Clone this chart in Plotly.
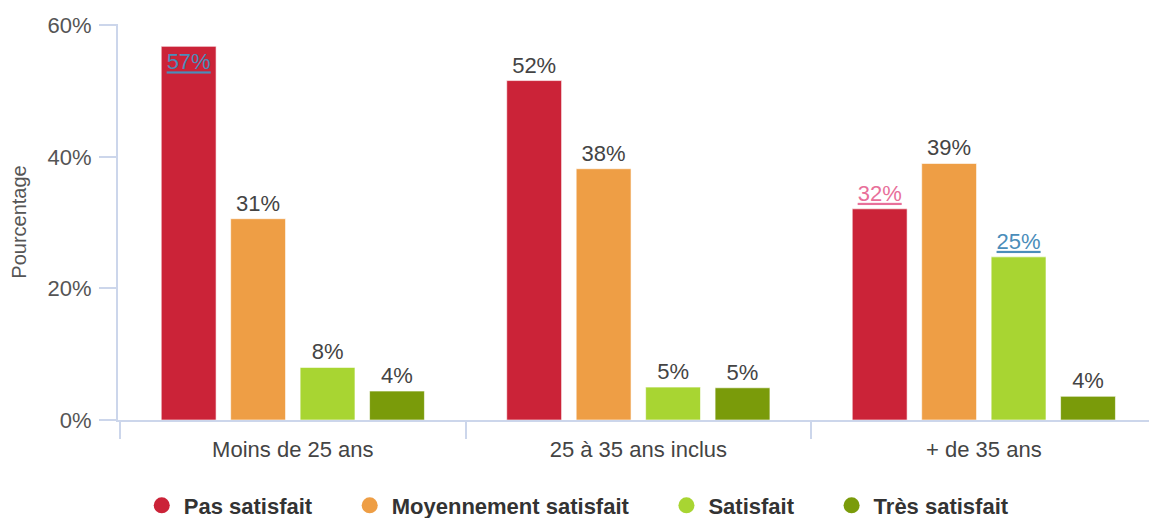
import plotly.graph_objects as go

categories = ["Moins de 25 ans", "25 à 35 ans inclus", "+ de 35 ans"]
series_names = ["Pas satisfait", "Moyennement satisfait", "Satisfait", "Très satisfait"]
pas_satisfait = [56.8, 51.6, 32.1]
moyennement_satisfait = [30.6, 38.2, 39.0]
satisfait = [8.0, 5.0, 24.8]
tres_satisfait = [4.4, 4.9, 3.6]
y_ticks = [0, 20, 40, 60]
y_tick_labels = ["0%", "20%", "40%", "60%"]

series_values = [pas_satisfait, moyennement_satisfait, satisfait, tres_satisfait]
colors = ["#CB2338", "#EE9E45", "#A8D532", "#7A9B0A"]

# label styling (position / colour / underline) per point
BLUE = "#4A8DBA"
PINK = "#E8709A"
GRAY = "#444444"
label_style = {
    (0, 0): ("inside", BLUE, True),
    (0, 2): ("outside", PINK, True),
    (2, 2): ("outside", BLUE, True),
}

FONT = "Liberation Sans, Arial, sans-serif"
fig = go.Figure()
for si, (name, vals, col) in enumerate(zip(series_names, series_values, colors)):
    texts, positions, tcolors = [], [], []
    for ci, v in enumerate(vals):
        pos, c, und = label_style.get((si, ci), ("outside", GRAY, False))
        t = f"{round(v)}%"
        if und:
            t = f"<u>{t}</u>"
        texts.append(t)
        positions.append(pos)
        tcolors.append(c)
    fig.add_trace(go.Bar(
        x=categories, y=vals, name=name, showlegend=False,
        marker=dict(color=col, line=dict(color="rgba(255,255,255,0.6)", width=1)),
        text=texts, textposition=positions, insidetextanchor="end",
        textangle=0, constraintext="none", cliponaxis=False,
        textfont=dict(family=FONT, size=22, color=tcolors),
        hoverinfo="skip",
    ))
    nbsp = "\u00a0" * 5
    fig.add_trace(go.Scatter(
        x=[None], y=[None], mode="markers", name=name + nbsp,
        marker=dict(color=col, size=17, symbol="circle"),
        showlegend=True,
    ))

fig.update_layout(
    width=1149, height=518,
    paper_bgcolor="white", plot_bgcolor="white",
    barmode="group", bargap=0.196, bargroupgap=0.21,
    margin=dict(l=118, r=0, t=24, b=98),
    font=dict(family=FONT, size=22, color="#444444"),
    xaxis=dict(
        range=[-0.506, 2.478], showline=True, linecolor="#CCD6EB", linewidth=2,
        ticks="outside", tickson="boundaries", ticklen=17, tickcolor="#CCD6EB", tickwidth=2,
        tickfont=dict(family=FONT, size=22, color="#444444"), ticklabelstandoff=9,
        showgrid=False, zeroline=False, fixedrange=True,
    ),
    yaxis=dict(
        range=[0, 60.2], tickvals=y_ticks, ticktext=y_tick_labels,
        showline=True, linecolor="#CCD6EB", linewidth=2,
        ticks="outside", ticklen=17, tickcolor="#CCD6EB", tickwidth=2,
        tickfont=dict(family=FONT, size=22, color="#555555"), ticklabelstandoff=3,
        showgrid=False, zeroline=False, automargin=False,
        title=dict(text="Pourcentage", font=dict(family=FONT, size=20, color="#555555"), standoff=16),
    ),
    legend=dict(
        orientation="h", xref="container", yref="container",
        x=0.515, y=0.024, xanchor="center", yanchor="middle", itemwidth=34,
        font=dict(family=FONT, size=22, color="#333333", weight="bold"),
        itemclick=False, itemdoubleclick=False, tracegroupgap=0,
    ),
)

fig.write_html("out.html", config={"displayModeBar": False},
               post_script="document.body.style.margin='0';")
